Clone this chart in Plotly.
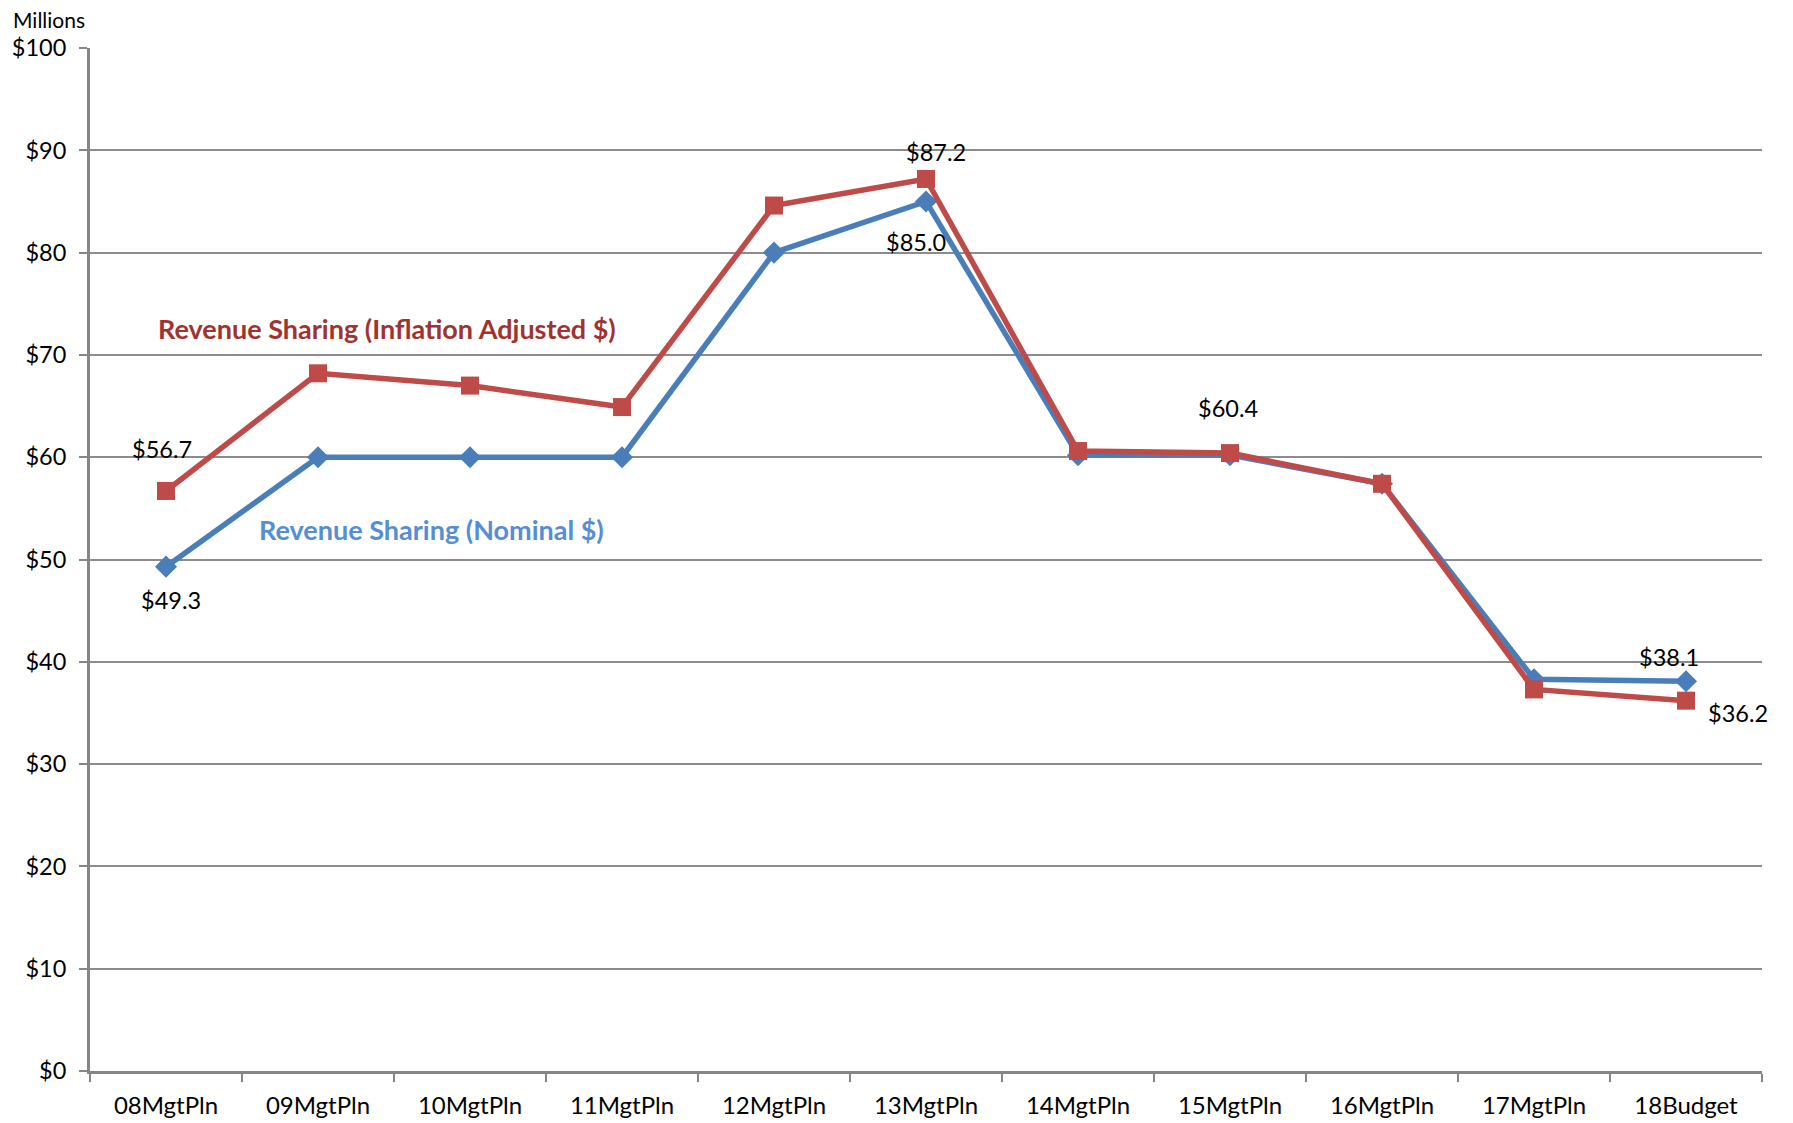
import plotly.graph_objects as go

categories = ["08MgtPln", "09MgtPln", "10MgtPln", "11MgtPln", "12MgtPln", "13MgtPln",
              "14MgtPln", "15MgtPln", "16MgtPln", "17MgtPln", "18Budget"]
nominal = [49.3, 60.0, 60.0, 60.0, 80.0, 85.0, 60.2, 60.2, 57.4, 38.3, 38.1]
inflation = [56.7, 68.2, 67.0, 64.9, 84.6, 87.2, 60.6, 60.4, 57.4, 37.3, 36.2]
y_ticks = list(range(0, 101, 10))
y_ticklabels = ["$" + str(v) for v in y_ticks]

BLUE = "#4A7EBB"
RED = "#BE4B48"
FONT = "Lato, 'Open Sans', sans-serif"

W, H = 1785, 1115
L, R, T, B = 82, 31, 40, 52
pw, ph = W - L - R, H - T - B


def px_x(xv):
    return (xv - 8 - L) / pw


def px_y(yv):
    return (H - (yv - 8) - B) / ph


fig = go.Figure()
fig.add_trace(go.Scatter(x=categories, y=nominal, mode="lines+markers",
                         name="Revenue Sharing (Nominal $)",
                         line=dict(color=BLUE, width=5.5),
                         marker=dict(symbol="diamond", size=17, color=BLUE)))
fig.add_trace(go.Scatter(x=categories, y=inflation, mode="lines+markers",
                         name="Revenue Sharing (Inflation Adjusted $)",
                         line=dict(color=RED, width=5.5),
                         marker=dict(symbol="square", size=18, color=RED)))

# data labels: (series, index, xshift, yshift)
labels = [
    (inflation, 0, -4, 42),
    (nominal, 0, 5, -33),
    (inflation, 5, 10, 27),
    (nominal, 5, -10, -41),
    (inflation, 7, -2, 45),
    (nominal, 10, -17, 24),
    (inflation, 10, 52, -12),
]
annotations = []
for series, i, dx, dy in labels:
    annotations.append(dict(x=categories[i], y=series[i], xref="x", yref="y",
                            text="$%.1f" % series[i], showarrow=False,
                            xshift=dx, yshift=dy,
                            font=dict(family=FONT, size=23.5, color="black")))

annotations.append(dict(x=px_x(387), y=px_y(328), xref="paper", yref="paper", showarrow=False,
                        xanchor="center", yanchor="middle",
                        text="<b>Revenue Sharing (Inflation Adjusted $)</b>",
                        font=dict(family=FONT, size=27, color="#A0332F")))
annotations.append(dict(x=px_x(431), y=px_y(529), xref="paper", yref="paper", showarrow=False,
                        xanchor="center", yanchor="middle",
                        text="<b>Revenue Sharing (Nominal $)</b>",
                        font=dict(family=FONT, size=27, color="#558ED5")))
annotations.append(dict(x=px_x(49), y=px_y(19), xref="paper", yref="paper",
                        showarrow=False, text="Millions", xanchor="center", yanchor="middle",
                        font=dict(family=FONT, size=21, color="black")))

fig.update_layout(
    width=W, height=H,
    margin=dict(l=L, r=R, t=T, b=B, autoexpand=False),
    paper_bgcolor="white", plot_bgcolor="white",
    showlegend=False,
    font=dict(family=FONT, size=23, color="black"),
    annotations=annotations,
    xaxis=dict(type="category", tickson="boundaries", ticks="outside", ticklen=8,
               tickcolor="#868686", tickwidth=2, showgrid=False,
               showline=True, linecolor="#868686", linewidth=3,
               tickfont=dict(family=FONT, size=24, color="black"),
               ticklabelstandoff=11,
               range=[-0.5, 10.5], automargin=False),
    yaxis=dict(range=[0, 100], tickvals=y_ticks, ticktext=y_ticklabels,
               ticks="outside", ticklen=8, tickcolor="#868686", tickwidth=2,
               showgrid=True, gridcolor="#8C8C8C", gridwidth=2,
               showline=True, linecolor="#868686", linewidth=3,
               zeroline=False, ticklabelstandoff=8, automargin=False,
               tickfont=dict(family=FONT, size=23.5, color="black")),
)

fig.write_html("out.html")
